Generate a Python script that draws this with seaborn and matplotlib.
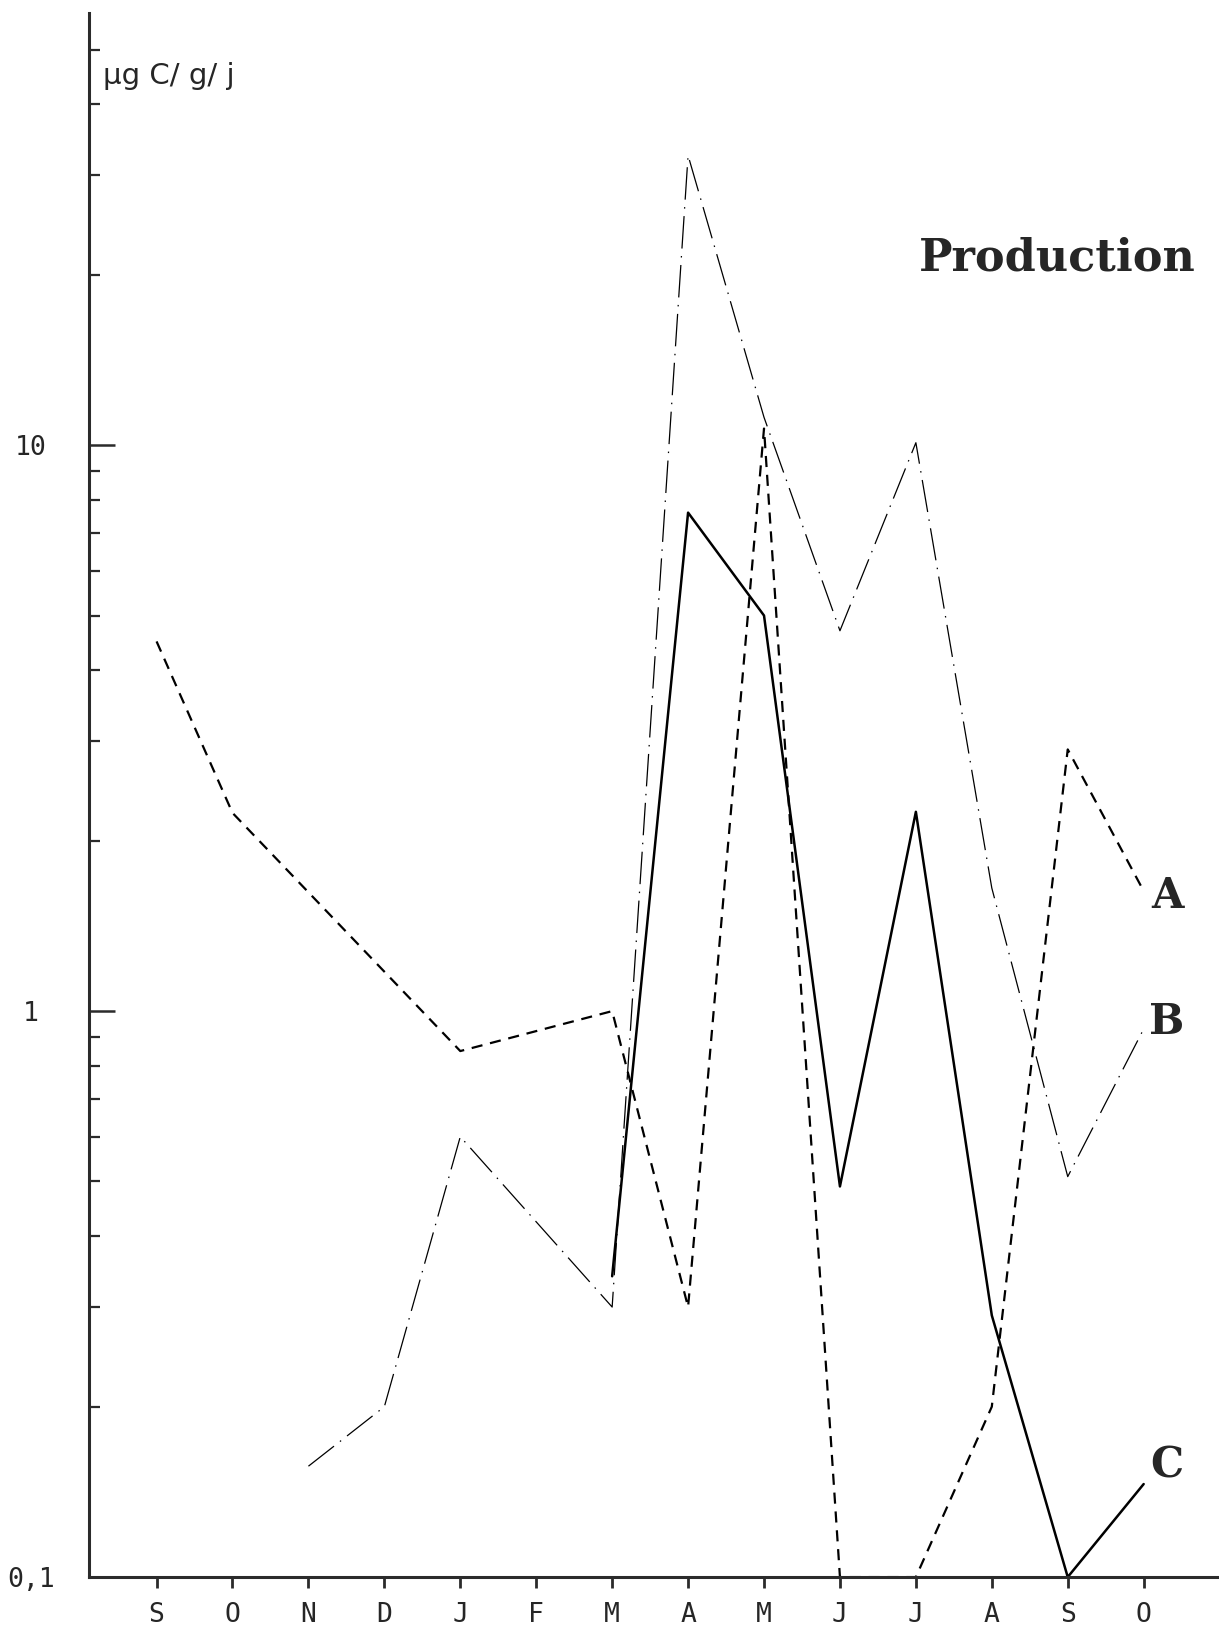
import numpy as np
import pandas as pd
import matplotlib
matplotlib.use("Agg")
import matplotlib.pyplot as plt
import matplotlib.ticker as mticker
import seaborn as sns

# months, Sept -> Oct of the following year
months = ["S", "O", "N", "D", "J", "F", "M", "A", "M", "J", "J", "A", "S", "O"]

# production (µg C / g / j), NaN = no measurement
prod_a = [4.5, 2.24, np.nan, np.nan, 0.85, np.nan, 1.0, 0.30, 10.7, 0.1, 0.1, 0.20, 2.9, 1.63]
prod_b = [np.nan, np.nan, 0.157, 0.20, 0.60, np.nan, 0.30, 32.5, 11.2, 4.7, 10.1, 1.65, 0.51, 0.93]
prod_c = [np.nan, np.nan, np.nan, np.nan, np.nan, np.nan, 0.34, 7.6, 5.0, 0.49, 2.25, 0.29, 0.1, 0.146]

df = pd.DataFrame({"mois": np.arange(len(months)), "A": prod_a, "B": prod_b, "C": prod_c})

sns.set_style("white")
plt.rcParams["font.family"] = ["DejaVu Sans"]

fig = plt.figure(figsize=(12.19, 16.38), dpi=100)
ax = fig.add_axes([0.073, 0.0372, 0.925, 0.9548])
ax.set_yscale("log")

sns.lineplot(data=df, x="mois", y="A", ax=ax, color="black", lw=1.6, dashes=(5, 3.5))
sns.lineplot(data=df, x="mois", y="B", ax=ax, color="black", lw=0.9, dashes=(26, 6, 1.2, 6))
sns.lineplot(data=df, x="mois", y="C", ax=ax, color="black", lw=1.8)

ax.set_xlim(-0.89, 13.96)
ax.set_ylim(0.1, 58)

# axes look
for side in ["top", "right"]:
    ax.spines[side].set_visible(False)
for side in ["left", "bottom"]:
    ax.spines[side].set_linewidth(2.2)
    ax.spines[side].set_color("#2b2b2b")

ax.set_xticks(np.arange(len(months)))
ax.set_xticklabels(months, family="DejaVu Sans Mono", fontsize=19)
ax.tick_params(axis="x", bottom=True, direction="out", length=8, width=2, pad=10, color="#2b2b2b")

ax.yaxis.set_major_locator(mticker.FixedLocator([0.1, 1, 10]))
ax.yaxis.set_minor_locator(mticker.LogLocator(base=10, subs=np.arange(2, 10), numticks=20))
ax.yaxis.set_minor_formatter(mticker.NullFormatter())
ax.set_yticklabels(["0,1", "1", "10"], family="DejaVu Sans Mono", fontsize=19, ha="center")
ax.tick_params(axis="y", which="major", left=True, direction="in", length=19, width=1.8, pad=42,
               color="#2b2b2b")
ax.tick_params(axis="y", which="minor", left=True, direction="in", length=8, width=1.6,
               color="#2b2b2b")

ax.set_xlabel("")
ax.set_ylabel("")

fig.text(103 / 1219, 1 - 76 / 1638, "µg C/ g/ j", fontsize=21, va="center", ha="left")
fig.text(1057 / 1219, 1 - 258 / 1638, "Production", family="DejaVu Serif", weight="heavy",
         fontsize=32, va="center", ha="center")
for lab, ypix in [("A", 896), ("B", 1022), ("C", 1465)]:
    fig.text(1167 / 1219, 1 - ypix / 1638, lab, family="DejaVu Serif", weight="heavy",
             fontsize=30, va="center", ha="center")

fig.savefig("out.png", dpi=100)
